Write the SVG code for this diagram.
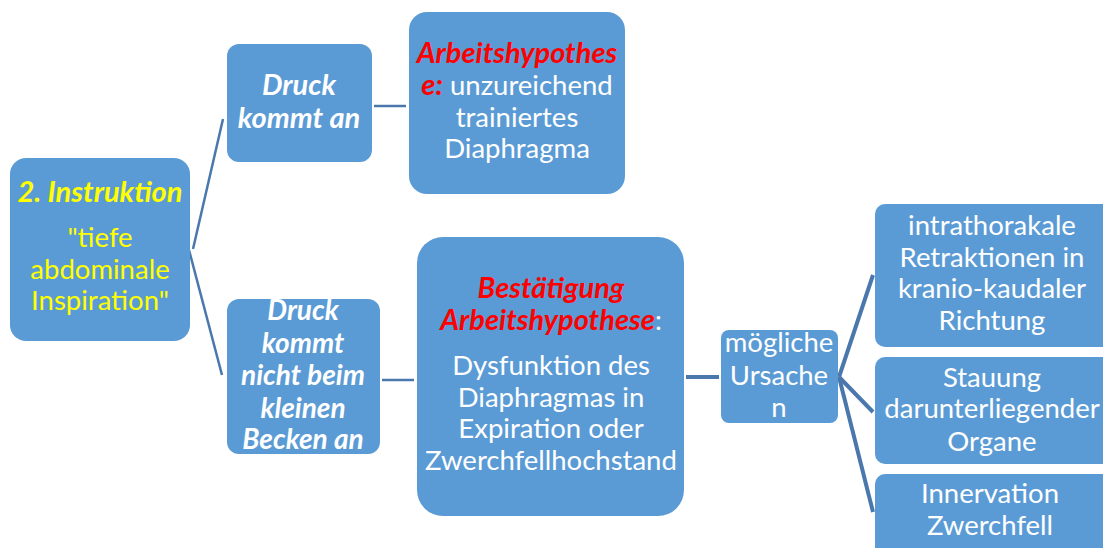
<svg xmlns="http://www.w3.org/2000/svg" width="1103" height="548" viewBox="0 0 1103 548">
<style>
.box{fill:#5b9bd5;}
.t{font-family:Lato,"Open Sans","Liberation Sans",sans-serif;font-size:27.5px;text-anchor:middle;fill:#ffffff;}
.bi{font-weight:bold;font-style:italic;font-size:29px;}
.s{font-size:28px;}
.y{fill:#ffff00;}
.r{fill:#ff0000;}
.ln{stroke:#4a78ad;stroke-width:2.5;fill:none;}
.lnb{stroke:#4a78ad;stroke-width:4;fill:none;}
</style>
<rect width="1103" height="548" fill="#ffffff"/>
<g id="connectors">
<line class="ln" x1="193" y1="249" x2="223" y2="119"/>
<line class="ln" x1="189" y1="250" x2="222" y2="375"/>
<line class="ln" x1="374" y1="106" x2="406" y2="106"/>
<line class="ln" x1="382" y1="380" x2="414" y2="380"/>
<line class="lnb" x1="686" y1="377" x2="719" y2="377"/>
<line class="lnb" x1="839" y1="377" x2="873" y2="275"/>
<line class="lnb" x1="839" y1="377" x2="873" y2="412"/>
<line class="lnb" x1="839" y1="377" x2="873" y2="512"/>
</g>
<g id="n1">
<rect class="box" x="10" y="158" width="180" height="183" rx="16"/>
<text class="t bi y" x="100" y="202">2. Instruktion</text>
<text class="t y" x="100" y="247">"tiefe</text>
<text class="t y" x="100" y="279">abdominale</text>
<text class="t y" x="100" y="310">Inspiration"</text>
</g>
<g id="n2">
<rect class="box" x="227" y="44" width="145" height="118" rx="12"/>
<text class="t bi" x="299" y="95">Druck</text>
<text class="t bi" x="299" y="128">kommt an</text>
</g>
<g id="n3">
<rect class="box" x="409" y="12" width="216" height="182" rx="18"/>
<text class="t bi r" x="517" y="63">Arbeitshypothes</text>
<text class="t" x="517" y="95"><tspan class="bi r">e:</tspan> unzureichend</text>
<text class="t" x="517" y="127">trainiertes</text>
<text class="t" x="517" y="158">Diaphragma</text>
</g>
<g id="n4">
<rect class="box" x="227" y="299" width="153" height="155" rx="12"/>
<text class="t bi s" x="303" y="320">Druck</text>
<text class="t bi s" x="303" y="353">kommt</text>
<text class="t bi s" x="303" y="385">nicht beim</text>
<text class="t bi s" x="303" y="418">kleinen</text>
<text class="t bi s" x="303" y="449">Becken an</text>
</g>
<g id="n5">
<rect class="box" x="417" y="237" width="267" height="279" rx="26"/>
<text class="t bi r" x="551" y="298">Bestätigung</text>
<text class="t" x="551" y="330"><tspan class="bi r">Arbeitshypothese</tspan>:</text>
<text class="t" x="551" y="375">Dysfunktion des</text>
<text class="t" x="551" y="407">Diaphragmas in</text>
<text class="t" x="551" y="438">Expiration oder</text>
<text class="t" x="551" y="470">Zwerchfellhochstand</text>
</g>
<g id="n6">
<rect class="box" x="721" y="330" width="117" height="93" rx="8"/>
<text class="t" x="779" y="352">mögliche</text>
<text class="t" x="779" y="385">Ursache</text>
<text class="t" x="779" y="417">n</text>
</g>
<g id="n7">
<rect class="box" x="875" y="204" width="240" height="143" rx="10"/>
<text class="t" x="992" y="235">intrathorakale</text>
<text class="t" x="992" y="267">Retraktionen in</text>
<text class="t" x="992" y="298">kranio-kaudaler</text>
<text class="t" x="992" y="330">Richtung</text>
</g>
<g id="n8">
<rect class="box" x="875" y="357" width="240" height="107" rx="10"/>
<text class="t" x="992" y="387">Stauung</text>
<text class="t" x="992" y="418">darunterliegender</text>
<text class="t" x="992" y="451">Organe</text>
</g>
<g id="n9">
<rect class="box" x="875" y="474" width="240" height="90" rx="10"/>
<text class="t" x="990" y="503">Innervation</text>
<text class="t" x="990" y="535">Zwerchfell</text>
</g>
</svg>
